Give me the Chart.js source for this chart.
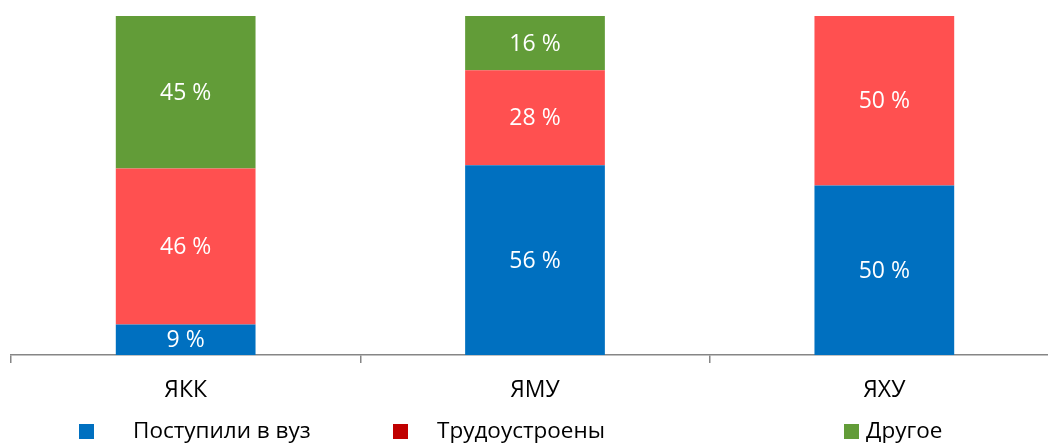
<!DOCTYPE html>
<html>
<head>
<meta charset="utf-8">
<script src="https://cdn.jsdelivr.net/npm/chart.js@4/dist/chart.umd.min.js"></script>
<style>
  html, body { margin: 0; padding: 0; background: #fff; overflow: hidden; }
  #wrap { width: 1048px; height: 443px; overflow: hidden; position: relative; }
  canvas { display: block; }
</style>
</head>
<body>
<div id="wrap"><canvas id="chart" width="1059" height="443"></canvas></div>
<script>
// Выпускники по колледжам, %
const categories = ["ЯКК", "ЯМУ", "ЯХУ"];
const seriesNames = ["Поступили в вуз", "Трудоустроены", "Другое"];
const vuz = [9, 56, 50];
const rabota = [46, 28, 50];
const drugoe = [45, 16, 0];

const FONT = "'Open Sans', 'Noto Sans', sans-serif";
const barColors = ["#0070C0", "#FF5050", "#629C38"];
const legendColors = ["#0070C0", "#C00000", "#629C38"];

// подписи значений внутри сегментов
const valueLabels = {
  id: "valueLabels",
  afterDatasetsDraw(chart) {
    const ctx = chart.ctx;
    ctx.save();
    ctx.fillStyle = "#fff";
    ctx.font = "23px " + FONT;
    ctx.textAlign = "center";
    ctx.textBaseline = "middle";
    chart.data.datasets.forEach((ds, i) => {
      chart.getDatasetMeta(i).data.forEach((bar, j) => {
        const v = ds.data[j];
        if (!v) return;
        const yc = (bar.y + bar.base) / 2;
        ctx.fillText(v + " %", bar.x, yc + 1);
      });
    });
    ctx.restore();
  }
};

// легенда снизу, квадратики разнесены как в отчёте
const bottomLegend = {
  id: "bottomLegend",
  afterDraw(chart) {
    const ctx = chart.ctx;
    const items = [
      { box: 79, text: 133 },
      { box: 393, text: 437 },
      { box: 844, text: 866 }
    ];
    const y = 432;
    ctx.save();
    ctx.font = "22.5px " + FONT;
    ctx.textBaseline = "middle";
    items.forEach((it, i) => {
      ctx.fillStyle = legendColors[i];
      ctx.fillRect(it.box, y - 8, 15, 15);
      ctx.fillStyle = "#000";
      ctx.fillText(seriesNames[i], it.text, y);
    });
    ctx.restore();
  }
};

new Chart(document.getElementById("chart"), {
  type: "bar",
  data: {
    labels: categories,
    datasets: [
      { label: seriesNames[0], data: vuz, backgroundColor: barColors[0] },
      { label: seriesNames[1], data: rabota, backgroundColor: barColors[1] },
      { label: seriesNames[2], data: drugoe, backgroundColor: barColors[2] }
    ]
  },
  options: {
    responsive: false,
    animation: false,
    layout: { padding: { left: 11, right: 0, top: 16, bottom: 0 } },
    datasets: { bar: { barPercentage: 0.4, categoryPercentage: 1 } },
    plugins: { legend: { display: false }, tooltip: { enabled: false } },
    scales: {
      x: {
        stacked: true,
        afterFit: s => { s.height = 88; },
        grid: {
          offset: true,
          drawOnChartArea: false,
          tickLength: 8,
          color: "#868686",
          lineWidth: 1.5
        },
        border: { color: "#868686", width: 1.5 },
        ticks: { color: "#000", padding: 14, font: { family: FONT, size: 23 } }
      },
      y: {
        stacked: true,
        display: false,
        min: 0,
        max: 100
      }
    }
  },
  plugins: [valueLabels, bottomLegend]
});
</script>
</body>
</html>
